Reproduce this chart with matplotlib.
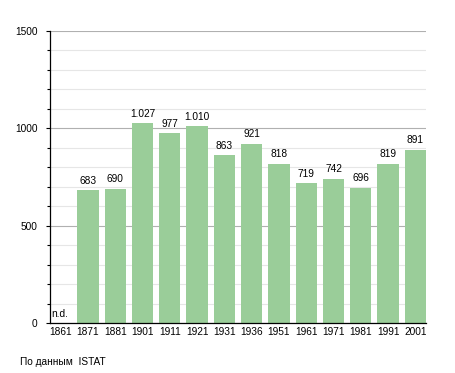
import matplotlib.pyplot as plt
from matplotlib.ticker import MultipleLocator

plt.rcParams["font.family"] = ["Liberation Sans", "DejaVu Sans"]

years = ["1861", "1871", "1881", "1901", "1911", "1921", "1931",
         "1936", "1951", "1961", "1971", "1981", "1991", "2001"]
population = [None, 683, 690, 1027, 977, 1010, 863,
              921, 818, 719, 742, 696, 819, 891]
source_note = "По данным  ISTAT"

bar_w = 0.78
bar_color = "#9acd99"
fs = 7.3

fig = plt.figure(figsize=(4.55, 3.73), dpi=100)
ax = fig.add_axes([50 / 455, 1 - 323 / 373, 376 / 455, 292 / 373])

xs = list(range(len(years)))
heights = [0 if v is None else v for v in population]
ax.bar(xs, heights, width=bar_w, align="edge", color=bar_color, zorder=2)

for x, v in zip(xs, population):
    if v is None:
        ax.text(x + 0.03, 20, "n.d.", ha="left", va="bottom", fontsize=fs)
    else:
        label = f"{v:,}".replace(",", ".")
        ax.text(x + bar_w / 2, v + 22, label, ha="center", va="bottom", fontsize=fs)

ax.set_xlim(0, len(years) - 1 + bar_w)
ax.set_ylim(0, 1500)
ax.set_xticks([x + bar_w / 2 for x in xs])
ax.set_xticklabels(years, fontsize=fs)
ax.tick_params(axis="x", length=0, pad=3)

ax.yaxis.set_major_locator(MultipleLocator(500))
ax.yaxis.set_minor_locator(MultipleLocator(100))
ax.tick_params(axis="y", which="major", length=3, width=0.8, pad=6, labelsize=fs)
ax.tick_params(axis="y", which="minor", length=2.5, width=0.8)

ax.grid(axis="y", which="major", color="#b0b0b0", linewidth=0.8, zorder=0)
ax.grid(axis="y", which="minor", color="#e6e6e6", linewidth=0.8, zorder=0)
ax.set_axisbelow(True)

for side in ("top", "right"):
    ax.spines[side].set_visible(False)
ax.spines["left"].set_linewidth(0.9)
ax.spines["bottom"].set_linewidth(0.9)

fig.text(20 / 455, 1 - 362 / 373, source_note, fontsize=fs, va="center", ha="left")

fig.savefig("out.png", dpi=100)
